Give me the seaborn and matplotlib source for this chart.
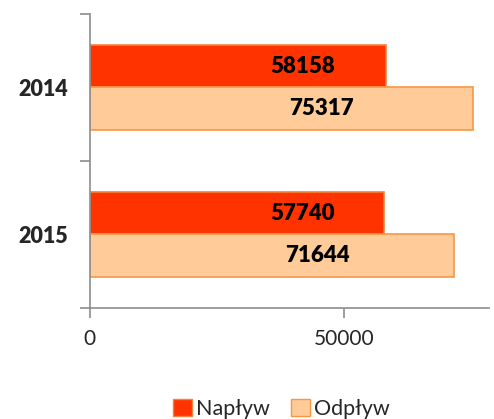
import matplotlib
matplotlib.use("Agg")
import matplotlib.pyplot as plt
import seaborn as sns
import pandas as pd
from matplotlib.patches import Patch

years = ["2014", "2015"]
series = ["Napływ", "Odpływ"]
naplyw = [58158, 57740]
odplyw = [75317, 71644]

df = pd.DataFrame({
    "rok": years * 2,
    "typ": [series[0]] * 2 + [series[1]] * 2,
    "wartosc": naplyw + odplyw,
})

sns.set_theme(style="white")
plt.rcParams['font.family'] = ['Lato', 'DejaVu Sans']

fills = {"Napływ": "#FF3300", "Odpływ": "#FFCC99"}
edges = {"Napływ": "#F4843C", "Odpływ": "#F79646"}

fig = plt.figure(figsize=(4.94, 4.19), dpi=100)
ax = fig.add_axes([0.182, 0.265, 0.808, 0.702])

sns.barplot(data=df, y="rok", x="wartosc", hue="typ", order=years,
            hue_order=series, palette=fills, orient="h", width=0.575,
            ax=ax, legend=False, saturation=1)

for cont, s in zip(ax.containers, series):
    for bar in cont:
        bar.set_edgecolor(edges[s])
        bar.set_linewidth(1.2)
        v = bar.get_width()
        yc = bar.get_y() + bar.get_height() / 2
        ax.text(v * 0.2065 + 29920, yc, f"{int(v)}", ha="center", va="center",
                fontsize=16, fontweight="heavy", color="black")

ax.set_xlim(0, 78500)
ax.set_ylim(1.5, -0.5)
ax.set_xticks([0, 50000])
ax.set_xticklabels(["0", "50000"], fontsize=15)
ax.set_yticks([0, 1])
ax.set_yticklabels(years, fontsize=15.5, fontweight="heavy")
ax.set_yticks([-0.5, 0.5, 1.5], minor=True)
ax.tick_params(axis="y", which="major", length=0, pad=16)
ax.tick_params(axis="y", which="minor", length=7, width=1.2, color="#8C8C8C", left=True)
ax.tick_params(axis="x", which="major", length=7, width=1.2, color="#8C8C8C", bottom=True, pad=8)
ax.set_xlabel("")
ax.set_ylabel("")
for side in ["top", "right"]:
    ax.spines[side].set_visible(False)
for side in ["left", "bottom"]:
    ax.spines[side].set_color("#8C8C8C")
    ax.spines[side].set_linewidth(1.2)

handles = [Patch(facecolor=fills[s], edgecolor=edges[s], label=s) for s in series]
fig.legend(handles=handles, loc="center", bbox_to_anchor=(0.57, 0.024), ncol=2,
           frameon=False, fontsize=15.5, handlelength=0.85, handleheight=0.85,
           handletextpad=0.2, columnspacing=1.0, borderpad=0.1)

fig.savefig("out.png", dpi=100)
